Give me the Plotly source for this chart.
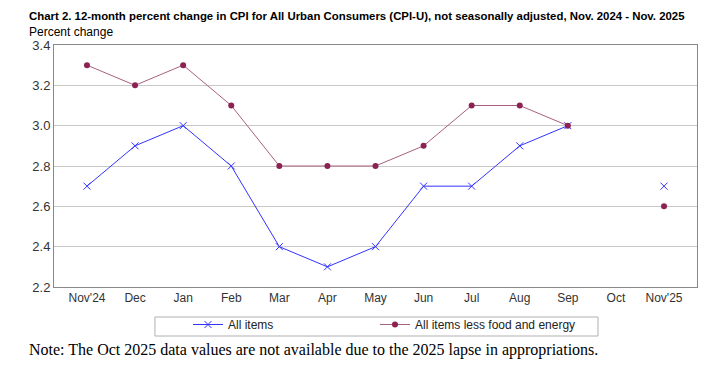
import plotly.graph_objects as go

categories = ["Nov'24", "Dec", "Jan", "Feb", "Mar", "Apr", "May", "Jun", "Jul", "Aug", "Sep", "Oct", "Nov'25"]
all_items = [2.7, 2.9, 3.0, 2.8, 2.4, 2.3, 2.4, 2.7, 2.7, 2.9, 3.0, None, 2.7]
core = [3.3, 3.2, 3.3, 3.1, 2.8, 2.8, 2.8, 2.9, 3.1, 3.1, 3.0, None, 2.6]
y_ticks = [2.2, 2.4, 2.6, 2.8, 3.0, 3.2, 3.4]

title = "Chart 2. 12-month percent change in CPI for All Urban Consumers (CPI-U), not seasonally adjusted, Nov. 2024 - Nov. 2025"
y_title = "Percent change"
note = "Note: The Oct 2025 data values are not available due to the 2025 lapse in appropriations."

x = list(range(len(categories)))

fig = go.Figure()
fig.add_trace(go.Scatter(
    x=x, y=all_items, name="All items", mode="lines+markers",
    line=dict(color="#3333ff", width=1),
    marker=dict(symbol="x-thin", size=7, line=dict(color="#3333ff", width=1), color="#3333ff"),
    legend="legend",
))
fig.add_trace(go.Scatter(
    x=x, y=core, name="All items less food and energy", mode="lines+markers",
    line=dict(color="#a8607f", width=1),
    marker=dict(symbol="circle", size=6, color="#8b2252"),
    legend="legend2",
))

leg_common = dict(orientation="h", yanchor="top", y=-0.095, xanchor="left",
                  borderwidth=0, bgcolor="rgba(0,0,0,0)",
                  font=dict(size=12, color="#222222"), itemclick=False, itemdoubleclick=False)

fig.update_layout(
    width=727, height=383,
    margin=dict(l=54, r=30, t=45, b=96),
    paper_bgcolor="white", plot_bgcolor="white",
    font=dict(family="Liberation Sans, Arial, sans-serif", size=12, color="#333333"),
    showlegend=True,
    legend=dict(x=0.2084, **leg_common),
    legend2=dict(x=0.4992, **leg_common),
    shapes=[
        dict(type="rect", xref="paper", yref="paper", x0=0.157, x1=0.846, y0=-0.124, y1=-0.2025,
             line=dict(color="#b0b0b0", width=1), fillcolor="rgba(0,0,0,0)", layer="below"),
    ],
    annotations=[
        dict(text="<b>" + title + "</b>",
             xref="paper", yref="paper", x=-0.042, y=1.0, yshift=21, xanchor="left", yanchor="bottom",
             showarrow=False, font=dict(family="Liberation Sans, Arial, sans-serif", size=11.4, color="#000000")),
        dict(text=y_title, xref="paper", yref="paper", x=-0.042, y=1.0, yshift=4,
             xanchor="left", yanchor="bottom", showarrow=False,
             font=dict(family="Liberation Sans, Arial, sans-serif", size=12, color="#000000")),
        dict(text=note,
             xref="paper", yref="paper", x=-0.042, y=0, yshift=-52, xanchor="left", yanchor="top",
             showarrow=False, font=dict(family="Liberation Serif, Times New Roman, serif", size=16, color="#000000")),
    ],
)
fig.update_xaxes(
    tickmode="array", tickvals=x, ticktext=categories,
    range=[-0.686, 12.686], showgrid=False, zeroline=False,
    showline=True, linecolor="#888888", mirror=True,
    ticks="", tickfont=dict(size=12, color="#333333"),
)
fig.update_yaxes(
    range=[2.2, 3.4], tickvals=y_ticks, ticktext=[f"{v:.1f}" for v in y_ticks],
    showgrid=True, gridcolor="#c8c8c8", zeroline=False,
    showline=True, linecolor="#888888", mirror=True,
    ticks="", tickfont=dict(size=13, color="#333333"),
)

fig.write_html("out.html", config={"displayModeBar": False},
               post_script="document.body.style.margin='0';")
